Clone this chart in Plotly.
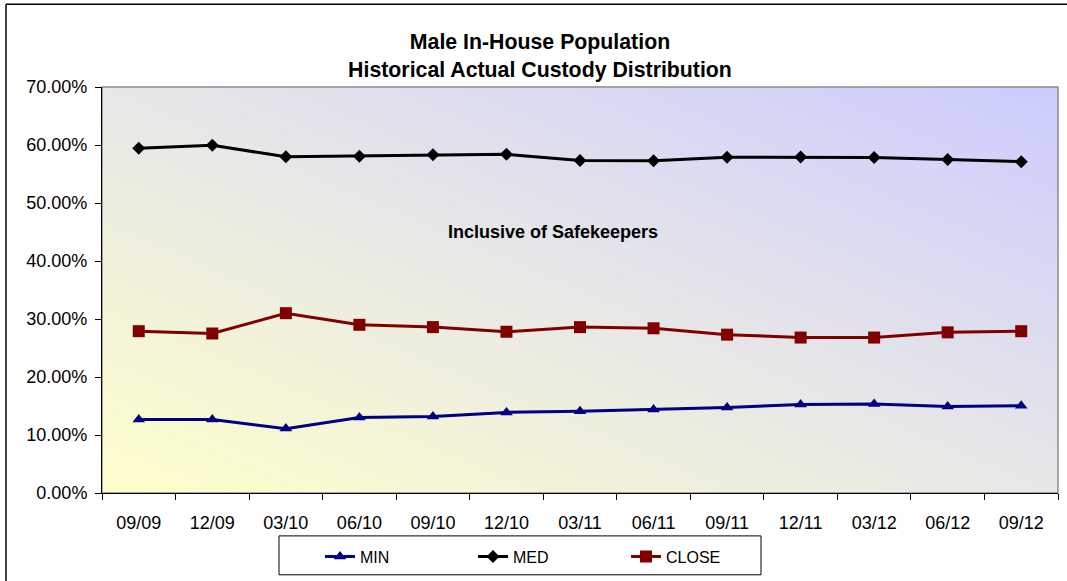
import base64
import plotly.graph_objects as go

# ---- data ----
quarters = ["09/09", "12/09", "03/10", "06/10", "09/10", "12/10", "03/11",
            "06/11", "09/11", "12/11", "03/12", "06/12", "09/12"]
min_vals = [0.1266, 0.1266, 0.1110, 0.1300, 0.1320, 0.1390, 0.1410,
            0.1440, 0.1475, 0.1525, 0.1535, 0.1490, 0.1505]
med_vals = [0.5944, 0.5996, 0.5796, 0.5807, 0.5830, 0.5840, 0.5733,
            0.5727, 0.5790, 0.5793, 0.5784, 0.5750, 0.5712]
close_vals = [0.2790, 0.2750, 0.3100, 0.2900, 0.2860, 0.2780, 0.2860,
              0.2840, 0.2730, 0.2680, 0.2680, 0.2770, 0.2790]
y_ticks = [0.0, 0.1, 0.2, 0.3, 0.4, 0.5, 0.6, 0.7]

# ---- geometry (pixels) ----
WIDTH, HEIGHT = 1067, 581
L, R, T, B = 102, 1058, 87, 494
PW, PH = R - L, B - T


def px(x):
    return (x - L) / PW


def py(y):
    return (B - y) / PH


FONT = "Liberation Sans, Arial, sans-serif"

svg = (
    f'<svg xmlns="http://www.w3.org/2000/svg" width="{PW}" height="{PH}" '
    f'viewBox="0 0 {PW} {PH}" preserveAspectRatio="none">'
    '<defs><linearGradient id="g" x1="0" y1="1" x2="1" y2="0">'
    '<stop offset="0" stop-color="#FFFFCC"/>'
    '<stop offset="0.5" stop-color="#E7E7E7"/>'
    '<stop offset="1" stop-color="#CCCCFF"/>'
    '</linearGradient></defs>'
    f'<rect width="{PW}" height="{PH}" fill="url(#g)"/></svg>'
)
bg_uri = "data:image/svg+xml;base64," + base64.b64encode(svg.encode()).decode()

fig = go.Figure()
fig.add_trace(go.Scatter(
    x=quarters, y=min_vals, name="MIN", mode="lines+markers",
    line=dict(color="#000080", width=3),
    marker=dict(symbol="triangle-up", size=11, color="#000080"),
))
fig.add_trace(go.Scatter(
    x=quarters, y=med_vals, name="MED", mode="lines+markers",
    line=dict(color="#000000", width=3),
    marker=dict(symbol="diamond", size=10, color="#000000"),
))
fig.add_trace(go.Scatter(
    x=quarters, y=close_vals, name="CLOSE", mode="lines+markers",
    line=dict(color="#800000", width=3),
    marker=dict(symbol="square", size=12, color="#800000"),
))

fig.update_layout(
    width=WIDTH, height=HEIGHT,
    margin=dict(l=L, r=WIDTH - R, t=T, b=HEIGHT - B, pad=0),
    paper_bgcolor="white", plot_bgcolor="#E7E7E7",
    font=dict(family=FONT, size=18, color="black"),
    title=dict(
        text="<b>Male In-House Population<br>Historical Actual Custody Distribution</b>",
        x=540 / WIDTH, xref="container", xanchor="center",
        y=1 - 49 / HEIGHT, yref="container", yanchor="middle",
        font=dict(family=FONT, size=21.3, color="black"),
    ),
    xaxis=dict(
        type="category", range=[-0.5, len(quarters) - 0.5],
        showgrid=False, zeroline=False,
        showline=True, linecolor="black", linewidth=1,
        ticks="outside", tickson="boundaries", ticklen=6, tickcolor="black",
        tickfont=dict(family=FONT, size=18), ticklabelstandoff=13,
        fixedrange=True,
    ),
    yaxis=dict(
        range=[0, 0.7], tickvals=y_ticks, tickformat=".2%",
        showgrid=False, zeroline=False,
        showline=True, linecolor="black", linewidth=1,
        ticks="outside", ticklen=6, tickcolor="black",
        tickfont=dict(family=FONT, size=18), ticklabelstandoff=4,
        fixedrange=True,
    ),
    showlegend=True,
    legend=dict(
        orientation="h", x=px(320), xanchor="left",
        y=py(556.5), yanchor="middle",
        bgcolor="rgba(0,0,0,0)", borderwidth=0,
        font=dict(family=FONT, size=16, color="black"),
        entrywidth=108, entrywidthmode="pixels",
    ),
    images=[dict(
        source=bg_uri, xref="paper", yref="paper", x=0, y=1,
        sizex=1, sizey=1, xanchor="left", yanchor="top",
        sizing="stretch", layer="below",
    )],
    shapes=[
        # plot-area frame (grey, top/right)
        dict(type="rect", xref="paper", yref="paper", x0=0, x1=1, y0=0, y1=1,
             line=dict(color="#8C8C8C", width=1.5), layer="below"),
        # legend box
        dict(type="rect", xref="paper", yref="paper",
             x0=px(279), x1=px(761), y0=py(537), y1=py(576),
             line=dict(color="black", width=1), fillcolor="white", layer="below"),
        # outer chart border (top and left visible)
        dict(type="line", xref="paper", yref="paper",
             x0=px(6), x1=px(1080), y0=py(4), y1=py(4),
             line=dict(color="black", width=1.5)),
        dict(type="line", xref="paper", yref="paper",
             x0=px(6), x1=px(6), y0=py(4), y1=py(600),
             line=dict(color="black", width=1.5)),
    ],
    annotations=[dict(
        text="<b>Inclusive of Safekeepers</b>", xref="paper", yref="paper",
        x=px(553), y=py(232), xanchor="center", yanchor="middle",
        showarrow=False, font=dict(family=FONT, size=18, color="black"),
    )],
)

fig.write_html(
    "out.html",
    config={"displayModeBar": False},
    post_script="document.body.style.margin='0';",
)
